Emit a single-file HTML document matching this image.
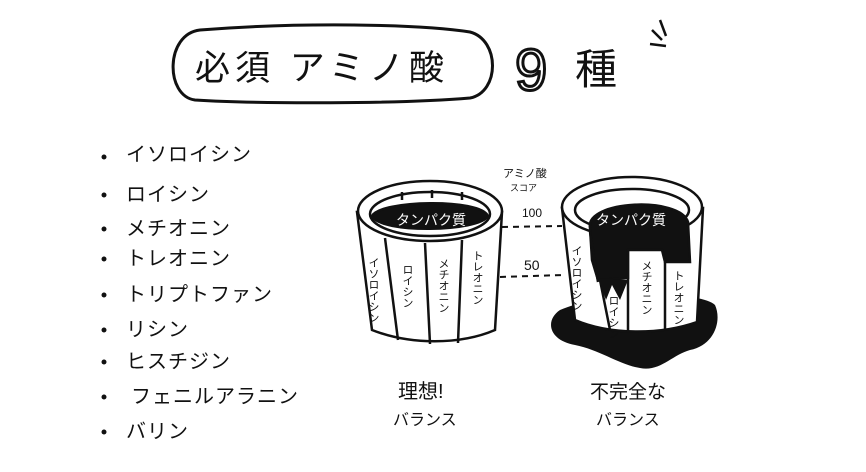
<!DOCTYPE html>
<html><head><meta charset="utf-8"><style>
html,body{margin:0;padding:0;background:#fff;}
svg{display:block}
text{font-family:"Liberation Sans","Noto Sans CJK JP",sans-serif;fill:#111}
.v{writing-mode:tb;font-size:11px}
</style></head><body>
<svg width="866" height="472" viewBox="0 0 866 472" xmlns="http://www.w3.org/2000/svg">
<!-- title -->
<path d="M200 30 C300 22 420 24 470 32 C500 40 500 92 470 98 C400 104 260 104 195 100 C165 96 165 34 200 30 Z" fill="none" stroke="#111" stroke-width="3"/>
<text x="195" y="80" font-size="35" letter-spacing="5">必須 アミノ酸</text>
<text x="515" y="90" font-size="58" style="fill:none" stroke="#111" stroke-width="3">9</text>
<text x="575" y="84" font-size="42">種</text>
<path d="M652 30 L662 40 M650 44 L666 46 M660 20 L666 36" stroke="#111" stroke-width="2.5" fill="none"/>
<!-- list -->
<g font-size="20" letter-spacing="1">
<text x="126" y="161">イソロイシン</text>
<text x="126" y="201">ロイシン</text>
<text x="126" y="235">メチオニン</text>
<text x="126" y="265">トレオニン</text>
<text x="126" y="301">トリプトファン</text>
<text x="126" y="336">リシン</text>
<text x="126" y="368">ヒスチジン</text>
<text x="131" y="403">フェニルアラニン</text>
<text x="126" y="438">バリン</text>
</g>
<g fill="#111">
<circle cx="104" cy="157" r="2.5"/><circle cx="104" cy="195" r="2.5"/><circle cx="104" cy="229" r="2.5"/><circle cx="104" cy="259" r="2.5"/><circle cx="104" cy="295" r="2.5"/><circle cx="104" cy="330" r="2.5"/><circle cx="104" cy="362" r="2.5"/><circle cx="104" cy="397" r="2.5"/><circle cx="104" cy="432" r="2.5"/>
</g>
<!-- left barrel -->
<g stroke="#111" stroke-width="2.5" fill="#fff">
<path d="M357 212 L372 330 C410 345 460 345 495 330 L502 212 Z"/>
<ellipse cx="430" cy="211" rx="72" ry="30"/>
<ellipse cx="430" cy="214" rx="60" ry="22"/>
<path d="M372 216 C380 200 480 198 488 216 C480 232 380 234 372 216 Z" fill="#111"/>
<path d="M402 192 L402 200 M432 190 L432 198 M462 192 L462 200" fill="none"/>
<path d="M385 238 L398 340 M425 243 L430 344 M462 240 L458 343" fill="none"/>
</g>
<text x="396" y="225" font-size="14" style="fill:#fff">タンパク質</text>
<text x="373" y="257" class="v">イソロイシン</text>
<text x="407" y="264" class="v">ロイシン</text>
<text x="443" y="258" class="v">メチオニン</text>
<text x="477" y="250" class="v">トレオニン</text>
<!-- dashed -->
<path d="M502 227 L562 226 M500 277 L563 275" stroke="#111" stroke-width="2" stroke-dasharray="6 5"/>
<text x="522" y="217" font-size="12">100</text>
<text x="524" y="270" font-size="14">50</text>
<text x="503" y="177" font-size="11">アミノ酸</text>
<text x="510" y="191" font-size="9">スコア</text>
<!-- right barrel -->
<path d="M560 310 C545 320 548 340 575 345 C600 350 620 365 640 368 C660 372 672 355 690 350 C715 345 722 320 715 305 C700 290 600 292 560 310 Z" fill="#111"/>
<g stroke="#111" stroke-width="2.5" fill="#fff">
<path d="M562 208 L575 320 C610 335 660 335 697 322 L703 208 Z"/>
<ellipse cx="632" cy="207" rx="70" ry="30"/>
<ellipse cx="632" cy="210" rx="57" ry="21"/>
<path d="M590 228 C585 200 680 196 688 222 L690 262 L665 262 L662 250 L628 250 L628 278 L598 280 L592 260 Z" fill="#111"/>
<path d="M600 280 L610 330 M628 250 L628 332 M665 262 L665 330" fill="none"/>
<path d="M590 232 L598 282" fill="none"/>
</g>
<path d="M598 278 L606 300 L612 285 L620 300 L628 280 Z" fill="#111"/>
<text x="596" y="225" font-size="14" style="fill:#fff">タンパク質</text>
<text x="576" y="245" class="v">イソロイシン</text>
<text x="613" y="295" class="v">ロイシン</text>
<text x="646" y="260" class="v">メチオニン</text>
<text x="678" y="270" class="v">トレオニン</text>
<!-- bottom labels -->
<text x="398" y="398" font-size="20">理想!</text>
<text x="393" y="425" font-size="16">バランス</text>
<text x="590" y="398" font-size="19">不完全な</text>
<text x="596" y="425" font-size="16">バランス</text>
</svg>
</body></html>
